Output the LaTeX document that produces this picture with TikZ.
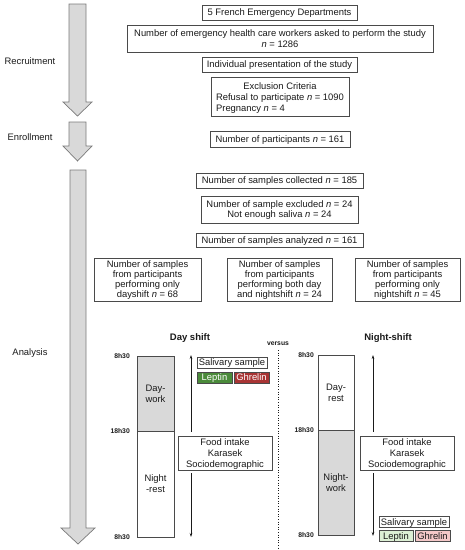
\documentclass[tikz,border=0pt]{standalone}
\usepackage{fontspec}
\setmainfont{Liberation Sans}
\usetikzlibrary{arrows.meta}
\definecolor{arrowfill}{HTML}{D9D9D9}
\definecolor{arrowline}{HTML}{7A7A7A}
\definecolor{boxline}{HTML}{4A4A4A}
\definecolor{txt}{HTML}{1A1A1A}
\definecolor{leptdark}{HTML}{4A8A3A}
\definecolor{ghrdark}{HTML}{A83434}
\definecolor{leptlight}{HTML}{DCEFD4}
\definecolor{ghrlight}{HTML}{F4C8C8}
\definecolor{barfill}{HTML}{D9D9D9}
\begin{document}
\begin{tikzpicture}[x=1pt,y=-1pt,
  every node/.style={text=txt, font=\fontsize{9.4}{11}\selectfont},
  box/.style={draw=boxline, line width=0.7pt, fill=white, inner sep=0pt, align=center, text depth=0.6pt},
  tight/.style={font=\fontsize{9.4}{9.8}\selectfont},
  bigarrow/.style={draw=arrowline, fill=arrowfill, line width=0.7pt, line join=miter},
  stagelabel/.style={font=\fontsize{9.4}{11}\selectfont},
  timelabel/.style={anchor=east, inner sep=0pt, font=\fontsize{6.8}{8}\bfseries\selectfont},
  bar/.style={draw=boxline, line width=0.7pt, inner sep=0pt, align=center},
  tag/.style={draw=boxline, line width=0.6pt, inner sep=0pt, minimum height=11pt, text depth=0.8pt},
  timeline/.style={draw=txt, line width=0.5pt},
  heading/.style={font=\fontsize{9.5}{11}\bfseries\selectfont}
]
\useasboundingbox (0,0) rectangle (465,550);

% stage arrows
\path[bigarrow] (69,4) -- (86,4) -- (86,102) -- (92,102) -- (77.5,116) -- (63,102) -- (69,102) -- cycle;
\path[bigarrow] (69,122) -- (86,122) -- (86,146) -- (92,146) -- (77.5,161) -- (63,146) -- (69,146) -- cycle;
\path[bigarrow] (70,170) -- (86,170) -- (86,528) -- (95,528) -- (78,544) -- (61,528) -- (70,528) -- cycle;

\node[stagelabel] (recr) at (30,61) {Recruitment};
\node[stagelabel] (enrol) at (30,137) {Enrollment};
\node[stagelabel] (anal) at (30,353) {Analysis};

% flow boxes
\node[box, minimum width=155pt, minimum height=15pt] (b1) at (279.5,12.5) {5 French Emergency Departments};
\node[box, minimum width=306pt, minimum height=27pt] (b2) at (280,38.5) {Number of emergency health care workers asked to perform the study\\\textit{n} = 1286};
\node[box, minimum width=155pt, minimum height=15pt] (b3) at (279.5,64.5) {Individual presentation of the study};
\node[box, minimum width=138pt, minimum height=39pt] (b4) at (280,96.5) {\begin{tabular}[b]{@{}l@{}}\multicolumn{1}{@{}c@{}}{Exclusion Criteria}\\Refusal to participate \textit{n} = 1090\\Pregnancy \textit{n} = 4\end{tabular}};
\node[box, minimum width=140pt, minimum height=16pt] (b5) at (280,139) {Number of participants \textit{n} = 161};
\node[box, minimum width=167pt, minimum height=15pt] (b6) at (279.5,180.5) {Number of samples collected \textit{n} = 185};
\node[box, font=\fontsize{9.4}{10}\selectfont, minimum width=157pt, minimum height=27pt] (b7) at (279.5,209.5) {Number of sample excluded \textit{n} = 24\\Not enough saliva \textit{n} = 24};
\node[box, minimum width=167pt, minimum height=14pt] (b8) at (279.5,240) {Number of samples analyzed \textit{n} = 161};
\node[box, tight, minimum width=107pt, minimum height=43pt] (b9) at (147.5,279.5) {Number of samples\\from participants\\performing only\\dayshift \textit{n} = 68};
\node[box, tight, minimum width=105pt, minimum height=43pt] (b10) at (279.5,279.5) {Number of samples\\from participants\\performing both day\\and nightshift \textit{n} = 24};
\node[box, tight, minimum width=105pt, minimum height=43pt] (b11) at (407.5,279.5) {Number of samples\\from participants\\performing only\\nightshift \textit{n} = 45};

% headings
\node[heading] (dayh) at (190,338) {Day shift};
\node[heading] (nighth) at (388,338) {Night-shift};
\node[font=\fontsize{6.8}{8}\bfseries\selectfont] (vs) at (278,343.5) {versus};
\coordinate (sepTop) at (278,350);
\coordinate (sepBot) at (278,549);
\draw[txt, line width=0.6pt, dotted] (sepTop) -- (sepBot);

% day shift column
\node[bar, fill=barfill, minimum width=37pt, minimum height=75pt] (dwork) at (155.5,393.5) {Day-\\work};
\node[bar, fill=white, minimum width=37pt, minimum height=106pt] (drest) at (155.5,484) {Night\\-rest};
\node[timelabel] (dt1) at (130,356) {8h30};
\node[timelabel] (dt2) at (130,431) {18h30};
\node[timelabel] (dt3) at (130,537) {8h30};
\coordinate (dTop) at (191,355);
\coordinate (dBot) at (191,537);
\node[box, minimum width=94pt, minimum height=34pt] (dfood) at (225,453) {Food intake\\Karasek\\Sociodemographic};
\draw[timeline, -{Stealth[length=4pt,width=2.5pt]}] (dfood.north -| dTop) ++(0,-4) -- (dTop);
\draw[timeline, -{Stealth[length=4pt,width=2.5pt]}] (dfood.south -| dBot) ++(0,3) -- (dBot);
\node[tag, fill=white, minimum width=70pt] (dsal) at (232,362.5) {Salivary sample};
\node[tag, fill=leptdark, text=white, minimum width=35pt] (dlep) at (214.5,377.5) {Leptin};
\node[tag, fill=ghrdark, text=white, minimum width=35pt] (dghr) at (251.5,377.5) {Ghrelin};

% night shift column
\node[bar, fill=white, minimum width=36pt, minimum height=75pt] (nrest) at (336,392.5) {Day-\\rest};
\node[bar, fill=barfill, minimum width=36pt, minimum height=105pt] (nwork) at (336,482.5) {Night-\\work};
\node[timelabel] (nt1) at (314,355) {8h30};
\node[timelabel] (nt2) at (314,430) {18h30};
\node[timelabel] (nt3) at (314,535) {8h30};
\coordinate (nTop) at (373,355);
\coordinate (nBot) at (373,536);
\node[box, minimum width=94pt, minimum height=34pt] (nfood) at (407,453) {Food intake\\Karasek\\Sociodemographic};
\draw[timeline, -{Stealth[length=4pt,width=2.5pt]}] (nfood.north -| nTop) ++(0,-4) -- (nTop);
\draw[timeline, -{Stealth[length=4pt,width=2.5pt]}] (nfood.south -| nBot) ++(0,3) -- (nBot);
\node[tag, fill=white, minimum width=70pt] (nsal) at (414,522) {Salivary sample};
\node[tag, fill=leptlight, minimum width=34pt] (nlep) at (396,536) {Leptin};
\node[tag, fill=ghrlight, minimum width=35pt] (nghr) at (432.5,536) {Ghrelin};
\end{tikzpicture}
\end{document}
